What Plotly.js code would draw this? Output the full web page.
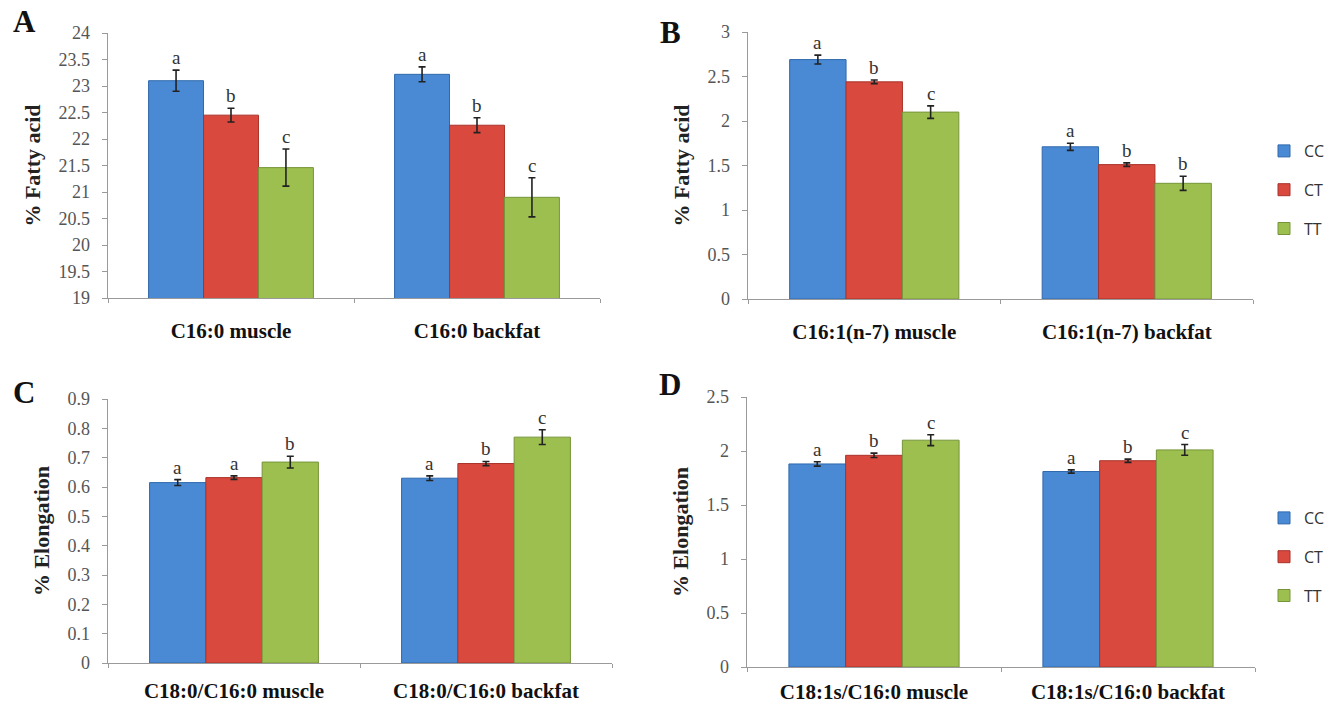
<!DOCTYPE html>
<html>
<head>
<meta charset="utf-8">
<script src="https://cdn.plot.ly/plotly-3.0.1.min.js"></script>
<style>
  html, body { margin: 0; padding: 0; background: #ffffff; }
  #chart { width: 1341px; height: 708px; }
</style>
</head>
<body>
<div id="chart"></div>
<script>
// Genotype groups
const genotypes = ['CC', 'CT', 'TT'];

// Panel A: C16:0 (% fatty acid)
const catsA = ['C16:0 muscle', 'C16:0 backfat'];
const ccA = [23.10, 23.22];
const ctA = [22.45, 22.26];
const ttA = [21.46, 20.90];
const ccA_err = [0.20, 0.14];
const ctA_err = [0.13, 0.14];
const ttA_err = [0.35, 0.37];
const ccA_sig = ['a', 'a'];
const ctA_sig = ['b', 'b'];
const ttA_sig = ['c', 'c'];

// Panel B: C16:1(n-7) (% fatty acid)
const catsB = ['C16:1(n-7) muscle', 'C16:1(n-7) backfat'];
const ccB = [2.69, 1.71];
const ctB = [2.44, 1.51];
const ttB = [2.10, 1.30];
const ccB_err = [0.05, 0.04];
const ctB_err = [0.02, 0.02];
const ttB_err = [0.07, 0.08];
const ccB_sig = ['a', 'a'];
const ctB_sig = ['b', 'b'];
const ttB_sig = ['c', 'b'];

// Panel C: C18:0/C16:0 elongation index
const catsC = ['C18:0/C16:0 muscle', 'C18:0/C16:0 backfat'];
const ccC = [0.615, 0.630];
const ctC = [0.632, 0.680];
const ttC = [0.685, 0.770];
const ccC_err = [0.010, 0.008];
const ctC_err = [0.006, 0.007];
const ttC_err = [0.020, 0.025];
const ccC_sig = ['a', 'a'];
const ctC_sig = ['a', 'b'];
const ttC_sig = ['b', 'c'];

// Panel D: C18:1s/C16:0 elongation index
const catsD = ['C18:1s/C16:0 muscle', 'C18:1s/C16:0 backfat'];
const ccD = [1.88, 1.81];
const ctD = [1.96, 1.91];
const ttD = [2.10, 2.01];
const ccD_err = [0.020, 0.015];
const ctD_err = [0.020, 0.015];
const ttD_err = [0.050, 0.050];
const ccD_sig = ['a', 'a'];
const ctD_sig = ['b', 'b'];
const ttD_sig = ['c', 'c'];

// Axis settings
const yRangeA = [19, 24], yDtickA = 0.5;
const yRangeB = [0, 3], yDtickB = 0.5;
const yRangeC = [0, 0.9], yDtickC = 0.1;
const yRangeD = [0, 2.5], yDtickD = 0.5;

const W = 1341, H = 708;
const colors = ['#4a8ad4', '#d9493e', '#9dbf4f'];
const edges = ['#2f69ad', '#a8332b', '#76953a'];
const serif = '"Liberation Serif", "Times New Roman", serif';
const BARGAP = 0.33;

// Subplot boxes (paper fractions)
const dom = {
  A: { x: [108 / W, 600 / W], y: [1 - 298 / H, 1 - 33 / H] },
  B: { x: [748 / W, 1253 / W], y: [1 - 299 / H, 1 - 32 / H] },
  C: { x: [108 / W, 612 / W], y: [1 - 663 / H, 1 - 399 / H] },
  D: { x: [747 / W, 1255 / W], y: [1 - 667 / H, 1 - 397 / H] }
};

const panels = [
  { key: 'A', ax: '', cats: catsA, vals: [ccA, ctA, ttA], errs: [ccA_err, ctA_err, ttA_err], sig: [ccA_sig, ctA_sig, ttA_sig], range: yRangeA, dtick: yDtickA, title: '% Fatty acid', legend: 'legend', lab: 13 },
  { key: 'B', ax: '2', cats: catsB, vals: [ccB, ctB, ttB], errs: [ccB_err, ctB_err, ttB_err], sig: [ccB_sig, ctB_sig, ttB_sig], range: yRangeB, dtick: yDtickB, title: '% Fatty acid', legend: null, lab: 13 },
  { key: 'C', ax: '3', cats: catsC, vals: [ccC, ctC, ttC], errs: [ccC_err, ctC_err, ttC_err], sig: [ccC_sig, ctC_sig, ttC_sig], range: yRangeC, dtick: yDtickC, title: '% Elongation', legend: null, lab: 8 },
  { key: 'D', ax: '4', cats: catsD, vals: [ccD, ctD, ttD], errs: [ccD_err, ctD_err, ttD_err], sig: [ccD_sig, ctD_sig, ttD_sig], range: yRangeD, dtick: yDtickD, title: '% Elongation', legend: 'legend2', lab: 5 }
];

const legendStyle = {
  xanchor: 'left', yanchor: 'top',
  font: { family: '"Open Sans", sans-serif', size: 16, color: '#333' },
  traceorder: 'grouped', tracegroupgap: 15, itemwidth: 30,
  bgcolor: 'rgba(0,0,0,0)'
};

const traces = [];
const annotations = [];
const layout = {
  width: W, height: H,
  margin: { l: 0, r: 0, t: 0, b: 0 },
  paper_bgcolor: '#ffffff',
  plot_bgcolor: 'rgba(0,0,0,0)',
  barmode: 'group',
  bargap: BARGAP,
  bargroupgap: 0,
  showlegend: true,
  legend: Object.assign({ x: 1264 / W, y: 1 - 134 / H }, legendStyle),
  legend2: Object.assign({ x: 1264 / W, y: 1 - 501 / H }, legendStyle),
  annotations: annotations
};

panels.forEach(p => {
  const xa = 'x' + p.ax, ya = 'y' + p.ax;
  const d = dom[p.key];
  layout['xaxis' + p.ax] = {
    domain: d.x, anchor: ya, type: 'category',
    range: [-0.5, p.cats.length - 0.5],
    showline: true, linecolor: '#9a9a9a', linewidth: 1.3,
    ticks: 'outside', ticklen: 4, tickcolor: '#9a9a9a', tickson: 'boundaries',
    ticklabelstandoff: p.lab,
    tickfont: { family: serif, size: 21, color: '#111', weight: 'bold' },
    showgrid: false, zeroline: false, fixedrange: true
  };
  layout['yaxis' + p.ax] = {
    domain: d.y, anchor: xa,
    range: p.range, dtick: p.dtick, tick0: p.range[0],
    showline: true, linecolor: '#9a9a9a', linewidth: 1.3,
    ticks: 'outside', ticklen: 5, tickcolor: '#9a9a9a',
    ticklabelstandoff: 8,
    tickfont: { family: serif, size: 18, color: '#555' },
    showgrid: false, zeroline: false, fixedrange: true,
    title: { text: p.title, font: { family: serif, size: 22, color: '#222', weight: 'bold' }, standoff: 12 }
  };

  genotypes.forEach((g, gi) => {
    const t = {
      type: 'bar', name: g, x: p.cats, y: p.vals[gi],
      xaxis: xa, yaxis: ya,
      marker: { color: colors[gi], line: { color: edges[gi], width: 1 } },
      error_y: { type: 'data', array: p.errs[gi], visible: true, color: '#222', thickness: 1.6, width: 3.5 },
      showlegend: p.legend !== null,
      legendgroup: p.key + g,
      hoverinfo: 'skip'
    };
    if (p.legend) t.legend = p.legend;
    traces.push(t);
  });

  // Significance letters above each bar's error bar
  const plotW = (d.x[1] - d.x[0]) * W;
  const catW = plotW / p.cats.length;
  const barW = catW * (1 - BARGAP) / genotypes.length;
  genotypes.forEach((g, gi) => {
    p.cats.forEach((c, ci) => {
      annotations.push({
        xref: xa, yref: ya, x: c, y: p.vals[gi][ci] + p.errs[gi][ci],
        xshift: (gi - 1) * barW, yshift: 0,
        text: p.sig[gi][ci], showarrow: false, yanchor: 'bottom',
        font: { family: serif, size: 19, color: '#333' }
      });
    });
  });

  // Panel letter
  const letterPos = { A: [24, 22], B: [670, 33], C: [24, 392], D: [670, 385] }[p.key];
  annotations.push({
    xref: 'paper', yref: 'paper', x: letterPos[0] / W, y: 1 - letterPos[1] / H,
    xanchor: 'center', yanchor: 'middle', showarrow: false,
    text: '<b>' + p.key + '</b>',
    font: { family: serif, size: 31, color: '#111' }
  });
});

Plotly.newPlot('chart', traces, layout, { displayModeBar: false, staticPlot: true });
</script>
</body>
</html>
